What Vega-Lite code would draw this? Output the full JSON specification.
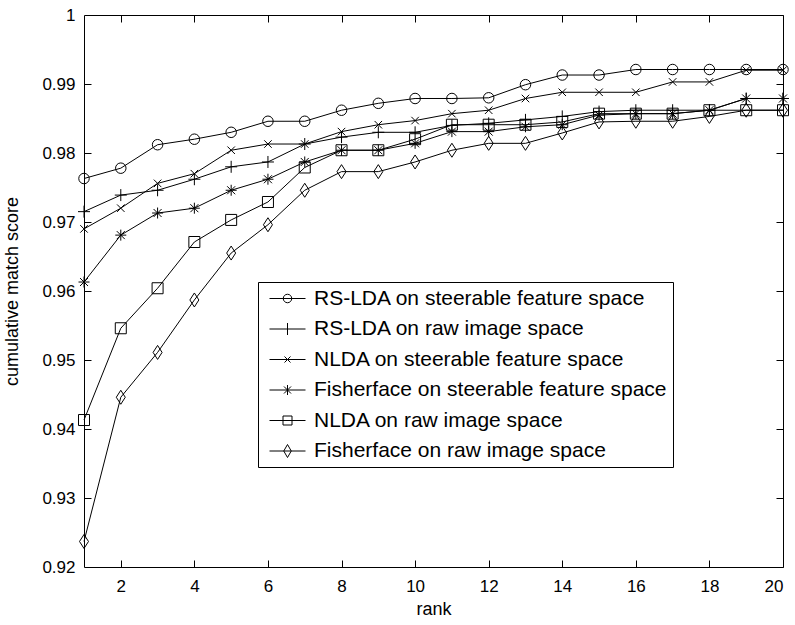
{
  "$schema": "https://vega.github.io/schema/vega-lite/v6.json",
  "width": 699,
  "height": 552,
  "autosize": {"type": "none"},
  "padding": {"left": 84, "top": 15, "right": 12, "bottom": 58},
  "background": "white",
  "datasets": {
    "scores": [
      {"rank":1,"series":"RS-LDA on steerable feature space","value":0.9763},
      {"rank":2,"series":"RS-LDA on steerable feature space","value":0.9778},
      {"rank":3,"series":"RS-LDA on steerable feature space","value":0.9812},
      {"rank":4,"series":"RS-LDA on steerable feature space","value":0.9820},
      {"rank":5,"series":"RS-LDA on steerable feature space","value":0.9830},
      {"rank":6,"series":"RS-LDA on steerable feature space","value":0.9846},
      {"rank":7,"series":"RS-LDA on steerable feature space","value":0.9846},
      {"rank":8,"series":"RS-LDA on steerable feature space","value":0.9862},
      {"rank":9,"series":"RS-LDA on steerable feature space","value":0.9872},
      {"rank":10,"series":"RS-LDA on steerable feature space","value":0.9879},
      {"rank":11,"series":"RS-LDA on steerable feature space","value":0.9879},
      {"rank":12,"series":"RS-LDA on steerable feature space","value":0.9880},
      {"rank":13,"series":"RS-LDA on steerable feature space","value":0.9899},
      {"rank":14,"series":"RS-LDA on steerable feature space","value":0.9913},
      {"rank":15,"series":"RS-LDA on steerable feature space","value":0.9913},
      {"rank":16,"series":"RS-LDA on steerable feature space","value":0.9921},
      {"rank":17,"series":"RS-LDA on steerable feature space","value":0.9921},
      {"rank":18,"series":"RS-LDA on steerable feature space","value":0.9921},
      {"rank":19,"series":"RS-LDA on steerable feature space","value":0.9921},
      {"rank":20,"series":"RS-LDA on steerable feature space","value":0.9921},
      {"rank":1,"series":"RS-LDA on raw image space","value":0.9715},
      {"rank":2,"series":"RS-LDA on raw image space","value":0.9739},
      {"rank":3,"series":"RS-LDA on raw image space","value":0.9746},
      {"rank":4,"series":"RS-LDA on raw image space","value":0.9762},
      {"rank":5,"series":"RS-LDA on raw image space","value":0.9780},
      {"rank":6,"series":"RS-LDA on raw image space","value":0.9787},
      {"rank":7,"series":"RS-LDA on raw image space","value":0.9813},
      {"rank":8,"series":"RS-LDA on raw image space","value":0.9823},
      {"rank":9,"series":"RS-LDA on raw image space","value":0.9830},
      {"rank":10,"series":"RS-LDA on raw image space","value":0.9830},
      {"rank":11,"series":"RS-LDA on raw image space","value":0.9840},
      {"rank":12,"series":"RS-LDA on raw image space","value":0.9843},
      {"rank":13,"series":"RS-LDA on raw image space","value":0.9848},
      {"rank":14,"series":"RS-LDA on raw image space","value":0.9853},
      {"rank":15,"series":"RS-LDA on raw image space","value":0.9860},
      {"rank":16,"series":"RS-LDA on raw image space","value":0.9862},
      {"rank":17,"series":"RS-LDA on raw image space","value":0.9862},
      {"rank":18,"series":"RS-LDA on raw image space","value":0.9862},
      {"rank":19,"series":"RS-LDA on raw image space","value":0.9879},
      {"rank":20,"series":"RS-LDA on raw image space","value":0.9879},
      {"rank":1,"series":"NLDA on steerable feature space","value":0.9690},
      {"rank":2,"series":"NLDA on steerable feature space","value":0.9720},
      {"rank":3,"series":"NLDA on steerable feature space","value":0.9756},
      {"rank":4,"series":"NLDA on steerable feature space","value":0.9770},
      {"rank":5,"series":"NLDA on steerable feature space","value":0.9804},
      {"rank":6,"series":"NLDA on steerable feature space","value":0.9813},
      {"rank":7,"series":"NLDA on steerable feature space","value":0.9813},
      {"rank":8,"series":"NLDA on steerable feature space","value":0.9831},
      {"rank":9,"series":"NLDA on steerable feature space","value":0.9841},
      {"rank":10,"series":"NLDA on steerable feature space","value":0.9847},
      {"rank":11,"series":"NLDA on steerable feature space","value":0.9857},
      {"rank":12,"series":"NLDA on steerable feature space","value":0.9862},
      {"rank":13,"series":"NLDA on steerable feature space","value":0.9879},
      {"rank":14,"series":"NLDA on steerable feature space","value":0.9888},
      {"rank":15,"series":"NLDA on steerable feature space","value":0.9888},
      {"rank":16,"series":"NLDA on steerable feature space","value":0.9888},
      {"rank":17,"series":"NLDA on steerable feature space","value":0.9903},
      {"rank":18,"series":"NLDA on steerable feature space","value":0.9903},
      {"rank":19,"series":"NLDA on steerable feature space","value":0.9920},
      {"rank":20,"series":"NLDA on steerable feature space","value":0.9920},
      {"rank":1,"series":"Fisherface on steerable feature space","value":0.9613},
      {"rank":2,"series":"Fisherface on steerable feature space","value":0.9681},
      {"rank":3,"series":"Fisherface on steerable feature space","value":0.9713},
      {"rank":4,"series":"Fisherface on steerable feature space","value":0.9720},
      {"rank":5,"series":"Fisherface on steerable feature space","value":0.9746},
      {"rank":6,"series":"Fisherface on steerable feature space","value":0.9762},
      {"rank":7,"series":"Fisherface on steerable feature space","value":0.9787},
      {"rank":8,"series":"Fisherface on steerable feature space","value":0.9804},
      {"rank":9,"series":"Fisherface on steerable feature space","value":0.9804},
      {"rank":10,"series":"Fisherface on steerable feature space","value":0.9814},
      {"rank":11,"series":"Fisherface on steerable feature space","value":0.9831},
      {"rank":12,"series":"Fisherface on steerable feature space","value":0.9831},
      {"rank":13,"series":"Fisherface on steerable feature space","value":0.9838},
      {"rank":14,"series":"Fisherface on steerable feature space","value":0.9841},
      {"rank":15,"series":"Fisherface on steerable feature space","value":0.9855},
      {"rank":16,"series":"Fisherface on steerable feature space","value":0.9857},
      {"rank":17,"series":"Fisherface on steerable feature space","value":0.9857},
      {"rank":18,"series":"Fisherface on steerable feature space","value":0.9862},
      {"rank":19,"series":"Fisherface on steerable feature space","value":0.9879},
      {"rank":20,"series":"Fisherface on steerable feature space","value":0.9879},
      {"rank":1,"series":"NLDA on raw image space","value":0.9413},
      {"rank":2,"series":"NLDA on raw image space","value":0.9546},
      {"rank":3,"series":"NLDA on raw image space","value":0.9604},
      {"rank":4,"series":"NLDA on raw image space","value":0.9671},
      {"rank":5,"series":"NLDA on raw image space","value":0.9703},
      {"rank":6,"series":"NLDA on raw image space","value":0.9729},
      {"rank":7,"series":"NLDA on raw image space","value":0.9779},
      {"rank":8,"series":"NLDA on raw image space","value":0.9804},
      {"rank":9,"series":"NLDA on raw image space","value":0.9804},
      {"rank":10,"series":"NLDA on raw image space","value":0.9820},
      {"rank":11,"series":"NLDA on raw image space","value":0.9841},
      {"rank":12,"series":"NLDA on raw image space","value":0.9841},
      {"rank":13,"series":"NLDA on raw image space","value":0.9841},
      {"rank":14,"series":"NLDA on raw image space","value":0.9845},
      {"rank":15,"series":"NLDA on raw image space","value":0.9857},
      {"rank":16,"series":"NLDA on raw image space","value":0.9857},
      {"rank":17,"series":"NLDA on raw image space","value":0.9857},
      {"rank":18,"series":"NLDA on raw image space","value":0.9862},
      {"rank":19,"series":"NLDA on raw image space","value":0.9862},
      {"rank":20,"series":"NLDA on raw image space","value":0.9862},
      {"rank":1,"series":"Fisherface on raw image space","value":0.9237},
      {"rank":2,"series":"Fisherface on raw image space","value":0.9446},
      {"rank":3,"series":"Fisherface on raw image space","value":0.9511},
      {"rank":4,"series":"Fisherface on raw image space","value":0.9587},
      {"rank":5,"series":"Fisherface on raw image space","value":0.9655},
      {"rank":6,"series":"Fisherface on raw image space","value":0.9696},
      {"rank":7,"series":"Fisherface on raw image space","value":0.9746},
      {"rank":8,"series":"Fisherface on raw image space","value":0.9773},
      {"rank":9,"series":"Fisherface on raw image space","value":0.9773},
      {"rank":10,"series":"Fisherface on raw image space","value":0.9787},
      {"rank":11,"series":"Fisherface on raw image space","value":0.9804},
      {"rank":12,"series":"Fisherface on raw image space","value":0.9814},
      {"rank":13,"series":"Fisherface on raw image space","value":0.9814},
      {"rank":14,"series":"Fisherface on raw image space","value":0.9829},
      {"rank":15,"series":"Fisherface on raw image space","value":0.9845},
      {"rank":16,"series":"Fisherface on raw image space","value":0.9846},
      {"rank":17,"series":"Fisherface on raw image space","value":0.9846},
      {"rank":18,"series":"Fisherface on raw image space","value":0.9853},
      {"rank":19,"series":"Fisherface on raw image space","value":0.9862},
      {"rank":20,"series":"Fisherface on raw image space","value":0.9862}
    ]
  },
  "data": {"name": "scores"},
  "resolve": {
    "scale": {"shape": "independent"},
    "axis": {"x": "independent", "y": "independent"},
    "legend": {"shape": "independent"}
  },
  "layer": [
    {
      "mark": {"type": "line", "color": "black", "strokeWidth": 1},
      "encoding": {
        "x": {
          "field": "rank", "type": "quantitative",
          "scale": {"domain": [1, 20], "nice": false, "zero": false},
          "axis": {
            "orient": "bottom", "title": "rank", "values": [2,4,6,8,10,12,14,16,18,20],
            "ticks": false, "tickSize": 0, "domain": false, "labelPadding": 11, "titlePadding": 6
          }
        },
        "y": {
          "field": "value", "type": "quantitative",
          "scale": {"domain": [0.92, 1], "nice": false, "zero": false},
          "axis": {
            "orient": "left", "title": "cumulative match score",
            "values": [0.92,0.93,0.94,0.95,0.96,0.97,0.98,0.99,1],
            "format": ".2~f",
            "ticks": false, "tickSize": 0, "domain": false, "labelPadding": 9, "titlePadding": 20
          }
        },
        "detail": {"field": "series"}
      }
    },
    {
      "mark": {"type": "point", "filled": false, "color": "black", "strokeWidth": 1, "size": 100, "opacity": 1},
      "encoding": {
        "x": {
          "field": "rank", "type": "quantitative",
          "axis": {"orient": "top", "offset": -552, "title": null, "labels": false, "domain": false,
                   "ticks": true, "tickSize": 7, "tickColor": "black", "values": [2,4,6,8,10,12,14,16,18,20]}
        },
        "y": {
          "field": "value", "type": "quantitative",
          "axis": {"orient": "right", "offset": -699, "title": null, "labels": false, "domain": false,
                   "ticks": true, "tickSize": 7, "tickColor": "black", "values": [0.93,0.94,0.95,0.96,0.97,0.98,0.99]}
        },
        "shape": {
          "field": "series", "type": "nominal",
          "scale": {
            "domain": ["RS-LDA on steerable feature space","RS-LDA on raw image space","NLDA on steerable feature space","Fisherface on steerable feature space","NLDA on raw image space","Fisherface on raw image space"],
            "range": [
              "M-1.05,0A1.05,1.05,0,1,1,1.05,0A1.05,1.05,0,1,1,-1.05,0Z",
              "M0,-1.2L0,1.2M-1.2,0L1.2,0",
              "M-0.75,-0.75L0.75,0.75M-0.75,0.75L0.75,-0.75",
              "M0,-1.1L0,1.1M-1.1,0L1.1,0M-0.8,-0.8L0.8,0.8M-0.8,0.8L0.8,-0.8",
              "M-1.1,-1.1L1.1,-1.1L1.1,1.1L-1.1,1.1Z",
              "M0,-1.4L0.9,0L0,1.4L-0.9,0Z"
            ]
          },
          "legend": null
        }
      }
    },
    {
      "mark": {"type": "point", "filled": false, "color": "black", "strokeWidth": 1, "size": 100, "opacity": 0},
      "encoding": {
        "x": {
          "field": "rank", "type": "quantitative",
          "axis": {"orient": "bottom", "offset": -552, "title": null, "labels": false, "domain": false,
                   "ticks": true, "tickSize": 7, "tickColor": "black", "values": [2,4,6,8,10,12,14,16,18,20]}
        },
        "y": {
          "field": "value", "type": "quantitative",
          "axis": {"orient": "left", "offset": -699, "title": null, "labels": false, "domain": false,
                   "ticks": true, "tickSize": 7, "tickColor": "black", "values": [0.93,0.94,0.95,0.96,0.97,0.98,0.99]}
        },
        "shape": {
          "field": "series", "type": "nominal",
          "scale": {
            "domain": ["RS-LDA on steerable feature space","RS-LDA on raw image space","NLDA on steerable feature space","Fisherface on steerable feature space","NLDA on raw image space","Fisherface on raw image space"],
            "range": [
              "M-3.6,0L3.6,0M-0.85,0A0.85,0.85,0,1,1,0.85,0A0.85,0.85,0,1,1,-0.85,0Z",
              "M-3.6,0L3.6,0M0,-1.2L0,1.2",
              "M-3.6,0L3.6,0M-0.6,-0.6L0.6,0.6M-0.6,0.6L0.6,-0.6",
              "M-3.6,0L3.6,0M0,-1L0,1M-0.7,-0.7L0.7,0.7M-0.7,0.7L0.7,-0.7",
              "M-3.6,0L3.6,0M-0.9,-0.9L0.9,-0.9L0.9,0.9L-0.9,0.9Z",
              "M-3.6,0L3.6,0M0,-1.3L0.75,0L0,1.3L-0.75,0Z"
            ]
          },
          "legend": {
            "orient": "none", "legendX": 174, "legendY": 267, "title": null,
            "strokeColor": "black", "fillColor": "white", "padding": 6, "cornerRadius": 0,
            "labelFontSize": 21, "labelColor": "black", "labelLimit": 500,
            "symbolOffset": 13, "labelOffset": 16, "rowPadding": 8.5,
            "symbolSize": 100, "symbolStrokeWidth": 1, "symbolStrokeColor": "black",
            "symbolFillColor": "transparent", "symbolOpacity": 1,
            "encode": {"symbols": {"update": {"opacity": {"value": 1}, "stroke": {"value": "black"}, "fill": {"value": "transparent"}}}}
          }
        }
      }
    }
  ],
  "config": {
    "font": "Liberation Sans",
    "view": {"stroke": "black", "strokeWidth": 1},
    "axis": {
      "grid": false, "labelColor": "black", "titleColor": "black", "titleFontWeight": "normal",
      "labelFontSize": 17, "titleFontSize": 18, "labelFont": "Liberation Sans", "titleFont": "Liberation Sans"
    },
    "legend": {"labelFont": "Liberation Sans"}
  }
}
